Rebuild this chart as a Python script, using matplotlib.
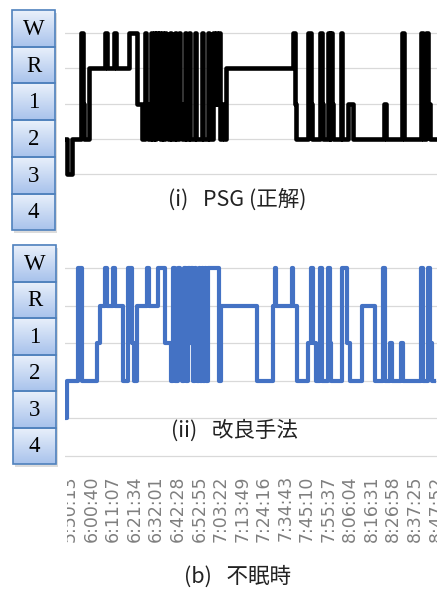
#!/usr/bin/env python3
"""Hypnogram comparison: PSG vs improved method (insomnia case)."""

import matplotlib
matplotlib.use("Agg")
import matplotlib.pyplot as plt
import numpy as np
from matplotlib.colors import LinearSegmentedColormap
from matplotlib.patches import Rectangle
from matplotlib.transforms import Bbox

# stage codes: 5=W, 4=R, 3=1, 2=2, 1=3, 0=4
stage_names = ["W", "R", "1", "2", "3", "4"]

# minutes since 5:50:13 where the stage changes, and the new stage
psg_t = [-2.4, -1.5, 1.0, 5.3, 6.3, 6.8, 9.2, 17.0, 17.9, 21.3, 22.3, 28.6,
         32.5, 34.9, 36.4, 37.1, 37.8, 39.3, 39.7, 40.7, 41.2, 41.9, 42.7,
         43.1, 43.6, 44.6, 45.1, 46.0, 46.5, 47.5, 48.5, 49.0, 50.9, 51.4,
         52.8, 53.3, 54.3, 55.7, 56.2, 57.7, 58.2, 60.6, 61.1, 64.0, 64.5,
         66.9, 67.4, 69.3, 69.8, 70.8, 71.3, 72.2, 72.7, 73.7, 74.6, 75.6,
         108.1, 109.1, 109.5, 115.4, 116.8, 117.3, 121.2, 122.2, 122.6,
         125.1, 125.8, 126.2, 127.0, 127.5, 131.4, 131.8, 134.8, 137.2,
         152.2, 153.2, 160.9, 161.9, 170.1, 171.1, 172.6, 173.5, 174.5, 176.9]
psg_s = [2, 1, 2, 5, 3, 2, 4, 5, 4, 5, 4, 5,
         3, 2, 5, 3, 2, 5, 2, 5, 2, 5, 3,
         5, 2, 5, 2, 5, 3, 2, 5, 2, 5, 2,
         5, 3, 2, 5, 2, 5, 2, 5, 2, 5, 2,
         5, 2, 5, 3, 5, 3, 5, 2, 3, 2, 4,
         5, 3, 2, 5, 3, 2, 5, 3, 2,
         5, 2, 5, 3, 2, 5, 2, 3, 2,
         3, 2, 5, 2, 5, 2, 5, 3, 2, 2]

est_t = [-2.4, -1.5, 3.9, 5.8, 13.1, 14.5, 17.0, 17.9, 20.8, 21.8, 25.7,
         28.1, 30.0, 31.0, 32.5, 37.3, 38.3, 42.7, 46.0, 49.0, 49.9, 50.9,
         52.4, 53.3, 54.3, 55.3, 56.2, 57.2, 58.2, 58.7, 59.6, 60.6, 61.1,
         61.6, 62.5, 63.0, 64.0, 64.5, 65.4, 65.9, 66.9, 72.2, 73.2, 90.7,
         98.4, 99.4, 99.9, 107.6, 108.3, 110.0, 115.4, 116.8, 117.8, 119.2,
         121.2, 122.2, 125.1, 126.0, 126.5, 131.9, 134.3, 135.7, 141.5,
         147.8, 151.7, 152.7, 155.1, 156.1, 160.5, 161.4, 170.1, 171.1,
         173.5, 174.5, 175.5, 176.4]
est_s = [1, 2, 5, 2, 3, 4, 5, 4, 5, 4, 2,
         5, 3, 2, 4, 5, 4, 5, 3, 2, 5, 2,
         5, 3, 2, 5, 2, 5, 3, 5, 2, 5, 3,
         2, 5, 2, 5, 2, 5, 2, 5, 2, 4, 2,
         4, 5, 4, 5, 4, 2, 3, 5, 3, 2,
         5, 2, 5, 3, 2, 5, 3, 2, 4,
         2, 5, 2, 3, 2, 3, 2, 5, 2,
         5, 3, 2, 2]

tick_labels = ["5:50:13", "6:00:40", "6:11:07", "6:21:34", "6:32:01",
               "6:42:28", "6:52:55", "7:03:22", "7:13:49", "7:24:16",
               "7:34:43", "7:45:10", "7:55:37", "8:06:04", "8:16:31",
               "8:26:58", "8:37:25", "8:47:52"]

W, H = 441, 592
CJK = ["Noto Sans CJK JP", "DejaVu Sans"]


def minutes(label):
    h, m, s = (int(v) for v in label.split(":"))
    return (h * 3600 + m * 60 + s - (5 * 3600 + 50 * 60 + 13)) / 60


def px_axes(fig, x0, y0, x1, y1):
    return fig.add_axes([x0 / W, 1 - y1 / H, (x1 - x0) / W, (y1 - y0) / H])


def style(ax, levels):
    for sp in ax.spines.values():
        sp.set_visible(False)
    ax.set_yticks([])
    ax.tick_params(length=0)
    for lv in levels:
        ax.axhline(lv, color="#d9d9d9", lw=0.9, zorder=0)
    ax.set_xlim(-2.4, 177.9)


fig = plt.figure(figsize=(W / 100, H / 100), dpi=100)

# label columns drawn in a pixel-space overlay
lab = fig.add_axes([0, 0, 1, 1], zorder=-1)
cmap = LinearSegmentedColormap.from_list("box", ["#eaf1fb", "#a9c3ec"])
grad = np.linspace(0, 1, 64).reshape(-1, 1)
for x0, top, step in [(12, 10, 36.7), (13, 245, 36.5)]:
    w = 43
    for i, name in enumerate(stage_names):
        y0 = top + i * step
        lab.add_patch(Rectangle((x0 + 2, y0 + 3), w, step, color="#bbbbbb",
                                alpha=0.5, lw=0, zorder=1))
        lab.imshow(grad, cmap=cmap, extent=(x0, x0 + w, y0 + step, y0),
                   aspect="auto", zorder=2)
        lab.add_patch(Rectangle((x0, y0), w, step, fill=False,
                                edgecolor="#4f81bd", lw=1.2, zorder=3))
        lab.text(x0 + w / 2, y0 + step / 2 + 1, name, ha="center",
                 va="center", fontsize=16.5, family="Liberation Serif",
                 zorder=4)
lab.set_xlim(0, W)
lab.set_ylim(H, 0)
lab.axis("off")

# (i) PSG
ax1 = px_axes(fig, 65, 19, 437, 188)
ax1.step(psg_t, psg_s, where="post", color="black", lw=3.3)
ax1.set_ylim(0.6, 5.4)
style(ax1, [1, 2, 3, 4, 5])
ax1.set_xticks([])

# (ii) improved method
ax2 = px_axes(fig, 65, 253, 437, 471)
ax2.step(est_t, est_s, where="post", color="#4472c4", lw=3.0)
ax2.set_ylim(-0.4, 5.4)
style(ax2, [0, 1, 2, 3, 4, 5])
ax2.set_xticks([minutes(t) for t in tick_labels])
ax2.set_xticklabels(tick_labels, rotation=90, fontsize=12.5,
                    color="#7f7f7f")
ax2.tick_params(axis="x", pad=3)
clip = Bbox([[67, 0], [437, H]])
for t in ax2.get_xticklabels():
    t.set_clip_on(True)
    t.set_clip_box(clip)

fig.text(237 / W, 1 - 200 / H, "(i)   PSG (正解)", ha="center", va="center",
         fontsize=15.5, family=CJK, color="#222222")
fig.text(234 / W, 1 - 431 / H, "(ii)   改良手法", ha="center", va="center",
         fontsize=15.5, family=CJK, color="#222222")
fig.text(237 / W, 1 - 577 / H, "(b)   不眠時", ha="center", va="center",
         fontsize=15.5, family=CJK, color="#222222")

fig.savefig("out.png", dpi=100)
